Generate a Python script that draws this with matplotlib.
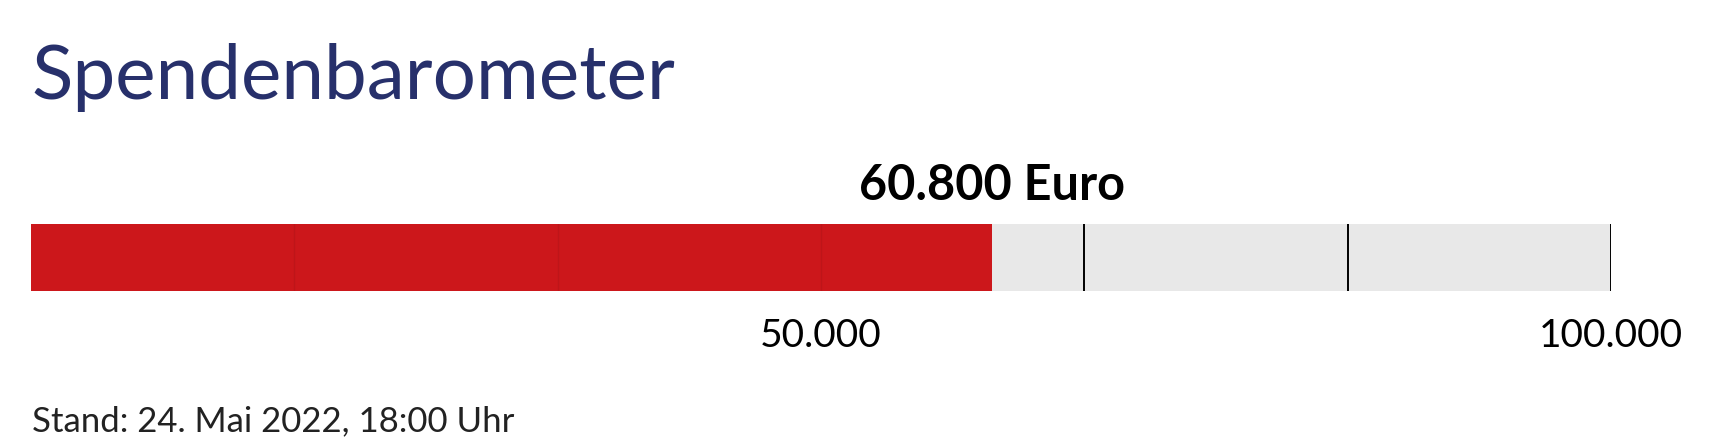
import matplotlib.pyplot as plt
import matplotlib.transforms as mtransforms

# Daten
goal = 100000
raised = 60800
tick_values = [goal * i / 6 for i in range(1, 7)]
label_values = [50000, 100000]
label_texts = ["50.000", "100.000"]
title = "Spendenbarometer"
amount_text = "60.800 Euro"
footer = "Stand: 24. Mai 2022, 18:00 Uhr"

W, H = 1721, 447
fig = plt.figure(figsize=(W / 100, H / 100), dpi=100)
plt.rcParams['font.family'] = ['Lato', 'DejaVu Sans']


def px(x, y):
    return x / W, 1 - y / H


# Balken-Achse
ax = fig.add_axes([31 / W, 1 - 291 / H, 1580 / W, 67 / H])
ax.set_xlim(0, goal)
ax.set_ylim(0, 1)
ax.axis('off')

ax.barh(0.5, goal, height=1, color='#e8e8e8', zorder=1)
ax.barh(0.5, raised, height=1, color='#cc171b', zorder=2)
for t in tick_values:
    if t > raised:
        ax.plot([t, t], [0, 1], color='black', lw=1.4, zorder=3, solid_capstyle='butt')
    else:
        ax.plot([t, t], [0, 1], color='#8a0f12', lw=1.0, alpha=0.2, zorder=3)

# Betrag ueber dem Balken
trans = mtransforms.blended_transform_factory(ax.transData, fig.transFigure)
ax.text(raised, px(0, 200)[1], amount_text, transform=trans, ha='center', va='baseline',
        fontsize=35, fontweight='bold', color='black')

# Beschriftungen unter dem Balken
for v, s in zip(label_values, label_texts):
    ax.text(v, px(0, 347)[1], s, transform=trans, ha='center', va='baseline',
            fontsize=28, color='black')

fig.text(*px(31, 99), title, ha='left', va='baseline', fontsize=55,
         color='#27306b')
fig.text(*px(32, 431), footer, ha='left', va='baseline', fontsize=25,
         color='#222222')

fig.savefig('out.png', dpi=100)
